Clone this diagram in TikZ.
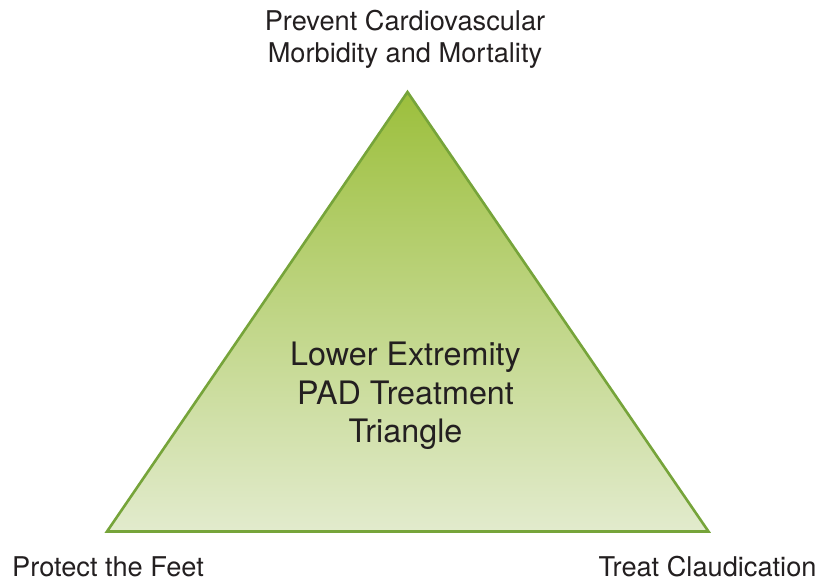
\documentclass[tikz,border=0pt]{standalone}
\usepackage{fontspec}
\setmainfont{TeX Gyre Heros}
\definecolor{txt}{HTML}{231F20}
\definecolor{edge}{HTML}{76A43A}
\definecolor{topg}{HTML}{9CBF3C}
\definecolor{botg}{HTML}{E2EBCD}
\tikzset{
  lab/.style={text=txt, font=\fontsize{27.2}{32}\selectfont, align=center, anchor=base, inner sep=0pt},
  mid/.style={text=txt, font=\fontsize{32.3}{38.5}\selectfont, align=center, inner sep=0pt},
}
\begin{document}
\begin{tikzpicture}[x=1pt,y=-1pt]
\useasboundingbox (0,0) rectangle (830,583);
\coordinate (A) at (407.5,92);
\coordinate (B) at (107,531.5);
\coordinate (C) at (708.5,531.5);
\shade[top color=topg, bottom color=botg] (A) -- (B) -- (C) -- cycle;
\draw[edge, line width=2.6pt, line join=miter] (A) -- (B) -- (C) -- cycle;
\node[lab] (top) at (405,63) {Prevent Cardiovascular\\Morbidity and Mortality};
\node[mid] (ctr) at (405.5,396) {Lower Extremity\\PAD Treatment\\Triangle};
\node[lab] (left) at (108,576.5) {Protect the Feet};
\node[lab] (right) at (707.5,576.5) {Treat Claudication};
\end{tikzpicture}
\end{document}
